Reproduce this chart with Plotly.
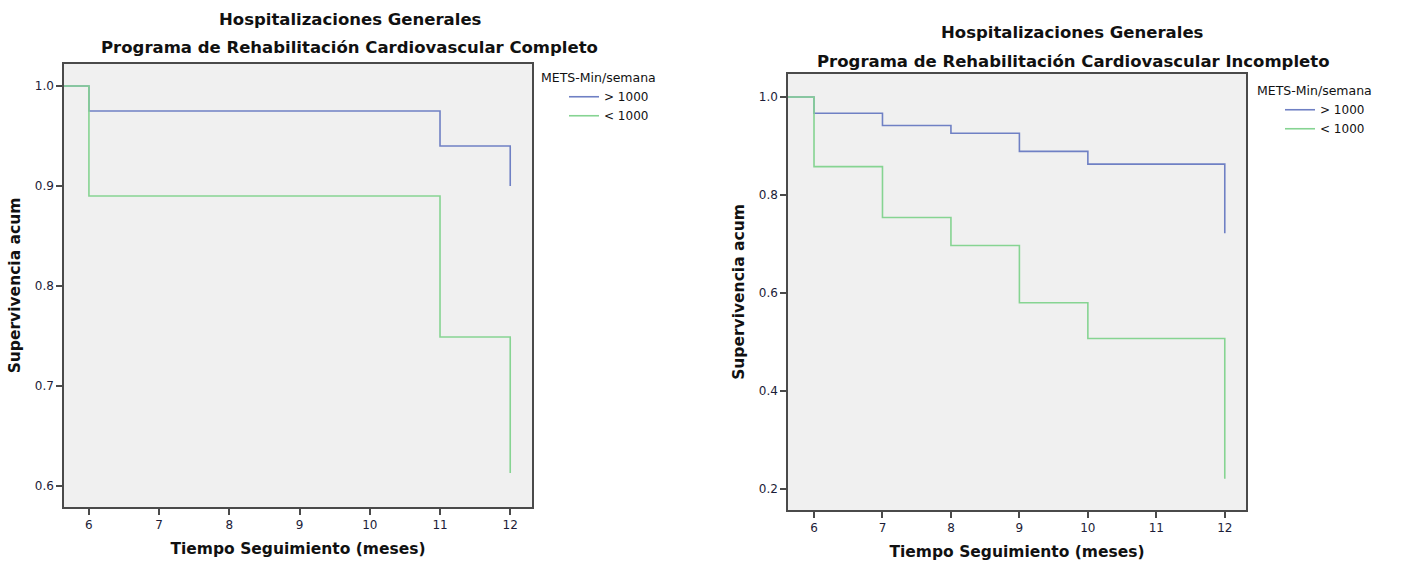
import plotly.graph_objects as go

# ---- data ----
time_left_hi = [0, 6, 11, 12]
surv_left_hi = [1.0, 0.975, 0.94, 0.90]
time_left_lo = [0, 6, 11, 12]
surv_left_lo = [1.0, 0.89, 0.749, 0.613]

time_right_hi = [0, 6, 7, 8, 9, 10, 12]
surv_right_hi = [1.0, 0.967, 0.942, 0.926, 0.889, 0.863, 0.722]
time_right_lo = [0, 6, 7, 8, 9, 10, 12]
surv_right_lo = [1.0, 0.858, 0.754, 0.697, 0.580, 0.507, 0.221]

series_names = ["> 1000", "< 1000"]
legend_title = "METS-Min/semana"
title_main = "Hospitalizaciones Generales"
title_left = "Programa de Rehabilitación Cardiovascular Completo"
title_right = "Programa de Rehabilitación Cardiovascular Incompleto"
x_title = "Tiempo Seguimiento (meses)"
y_title = "Supervivencia acum"
x_ticks = [6, 7, 8, 9, 10, 11, 12]
y_ticks_left = [0.6, 0.7, 0.8, 0.9, 1.0]
y_ticks_right = [0.2, 0.4, 0.6, 0.8, 1.0]

BLUE = "#6f80c4"
GREEN = "#86d492"
FONT = "DejaVu Sans"
W, H = 1406, 562

fig = go.Figure()

def add_pair(th, sh, tl, sl, xa, ya, leg):
    fig.add_trace(go.Scatter(x=th, y=sh, mode="lines", line=dict(color=BLUE, width=1.6, shape="hv"),
                             name=series_names[0], xaxis=xa, yaxis=ya, legend=leg))
    fig.add_trace(go.Scatter(x=tl, y=sl, mode="lines", line=dict(color=GREEN, width=1.6, shape="hv"),
                             name=series_names[1], xaxis=xa, yaxis=ya, legend=leg))

add_pair(time_left_hi, surv_left_hi, time_left_lo, surv_left_lo, "x", "y", "legend")
add_pair(time_right_hi, surv_right_hi, time_right_lo, surv_right_lo, "x2", "y2", "legend2")

def px_x(p):
    return p / W

def px_y(p):
    return 1 - p / H

axis_common = dict(showline=True, mirror=True, linecolor="#4a4a4a", linewidth=1.5,
                   ticks="outside", ticklen=6, tickcolor="#4a4a4a", tickwidth=1.5,
                   showgrid=False, zeroline=False,
                   tickfont=dict(family=FONT, size=12, color="#1c1c38"))

def ax_title(t, standoff):
    return dict(text="<b>" + t + "</b>", font=dict(family=FONT, size=15.5, color="#111"), standoff=standoff)

fig.update_layout(
    width=W, height=H,
    margin=dict(l=0, r=0, t=0, b=0),
    paper_bgcolor="white",
    plot_bgcolor="#f0f0f0",
    font=dict(family=FONT, color="#111"),
    xaxis=dict(domain=[px_x(64), px_x(532)], range=[5.645, 12.31], tickvals=x_ticks,
               title=ax_title(x_title, 12), anchor="y", **axis_common),
    yaxis=dict(domain=[px_y(507), px_y(64)], range=[0.579, 1.022], tickvals=y_ticks_left, tickformat=".1f",
               title=ax_title(y_title, 10), anchor="x", **axis_common),
    xaxis2=dict(domain=[px_x(788), px_x(1246)], range=[5.62, 12.31], tickvals=x_ticks,
                title=ax_title(x_title, 12), anchor="y2", **axis_common),
    yaxis2=dict(domain=[px_y(510), px_y(74)], range=[0.157, 1.047], tickvals=y_ticks_right, tickformat=".1f",
                title=ax_title(y_title, 10), anchor="x2", **axis_common),
    legend=dict(x=px_x(539), y=px_y(66), xanchor="left", yanchor="top",
                title=dict(text=legend_title, font=dict(family=FONT, size=12.5)),
                font=dict(family=FONT, size=12), bgcolor="rgba(0,0,0,0)",
                tracegroupgap=0, itemwidth=30, indentation=25),
    legend2=dict(x=px_x(1255), y=px_y(79), xanchor="left", yanchor="top",
                 title=dict(text=legend_title, font=dict(family=FONT, size=12.5)),
                 font=dict(family=FONT, size=12), bgcolor="rgba(0,0,0,0)",
                 tracegroupgap=0, itemwidth=30, indentation=25),
    showlegend=True,
)

def title_ann(text, xc, yc):
    fig.add_annotation(text="<b>" + text + "</b>", x=px_x(xc), y=px_y(yc), xref="paper", yref="paper",
                       showarrow=False, xanchor="center", yanchor="middle",
                       font=dict(family=FONT, size=16.5, color="#111"))

title_ann(title_main, 350, 19)
title_ann(title_left, 349, 48)
title_ann(title_main, 1072, 32)
title_ann(title_right, 1073, 61)

fig.write_html("out.html", config={"displayModeBar": False},
               post_script="document.body.style.margin='0';")
